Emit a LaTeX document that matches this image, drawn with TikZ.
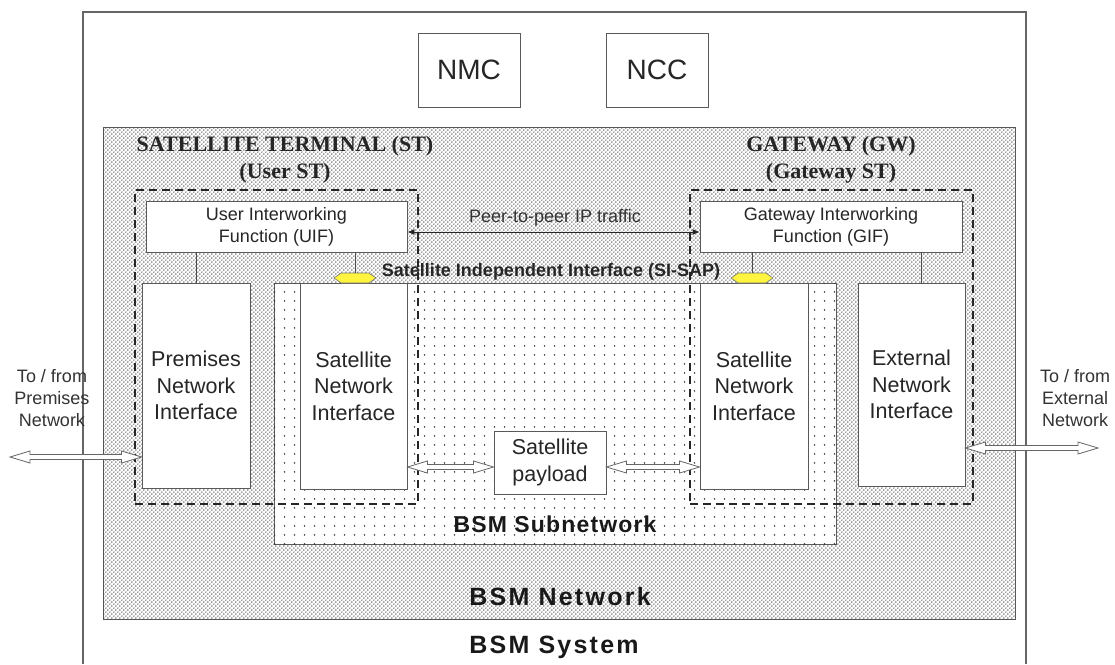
\documentclass[tikz,border=0pt]{standalone}
\usepackage{fontspec}
\setmainfont{Liberation Sans}
\newfontfamily\titlefont{Liberation Serif}
\newfontfamily\bsmA{Liberation Sans}[LetterSpace=9]
\newfontfamily\bsmB{Liberation Sans}[LetterSpace=5]
\usetikzlibrary{patterns.meta, shapes.symbols, arrows.meta, calc}

\tikzdeclarepattern{
  name=densedots, type=uncolored,
  bottom left={(0pt,0pt)}, top right={(4.4pt,4.4pt)},
  tile size={(4.4pt,4.4pt)},
  code={\tikzset{x=1pt,y=1pt}
    \fill (1.1,1.1) circle (0.85);
    \fill (3.3,3.3) circle (0.85);}
}
\tikzdeclarepattern{
  name=sparsedots, type=uncolored,
  bottom left={(0pt,0pt)}, top right={(10pt,9pt)},
  tile size={(10pt,9pt)},
  code={\tikzset{x=1pt,y=1pt}
    \fill (5,4.5) circle (0.95);}
}

\newcommand\hollowarrow[2]{%
  \draw[harrow] let \p1=#1, \p2=#2 in
    (\x1,\y1) -- (\x1+20pt,\y1+6pt) -- (\x1+20pt,\y1+2.5pt) -- (\x2-20pt,\y1+2.5pt)
    -- (\x2-20pt,\y1+6pt) -- (\x2,\y1) -- (\x2-20pt,\y1-6pt) -- (\x2-20pt,\y1-2.5pt)
    -- (\x1+20pt,\y1-2.5pt) -- (\x1+20pt,\y1-6pt) -- cycle;}

\begin{document}
\begin{tikzpicture}[x=1pt,y=-1pt,
  sysline/.style={draw=black!60, line width=1.3pt},
  box/.style={draw=black!65, line width=0.9pt, fill=white, inner sep=0pt, align=center, text=black!85},
  region/.style={draw=black!65, line width=0.9pt, fill=white, inner sep=0pt},
  dbox/.style={draw=black!85, line width=1.8pt, dash pattern=on 8pt off 5pt, inner sep=0pt},
  conn/.style={draw=black!70, line width=0.9pt},
  sap/.style={signal, signal to=east and west, signal pointer angle=70, draw=black!55, line width=0.6pt,
    fill=yellow!75!white, minimum width=42pt, minimum height=10pt, inner sep=0pt},
  peer/.style={draw=black!85, line width=0.9pt, {Latex[length=7pt,width=6pt]}-{Latex[length=7pt,width=6pt]}},
  harrow/.style={draw=black!60, line width=0.8pt, fill=white},
  titletxt/.style={font=\titlefont\bfseries\fontsize{22}{27}\selectfont, align=center, text=black!85},
  iffont/.style={font=\fontsize{21.5}{26.5}\selectfont},
  tofrom/.style={font=\fontsize{18}{22}\selectfont, align=center, text=black!80},
]
\useasboundingbox (0,0) rectangle (1115,664);
\fill[white] (0,0) rectangle (1115,664);

% BSM System outline (open at the bottom)
\draw[sysline] (83,664) -- (83,12) -- (1026,12) -- (1026,664);

\node[box, minimum width=102pt, minimum height=74pt, font=\fontsize{28}{32}\selectfont] (nmc) at (469,70) {NMC};
\node[box, minimum width=102pt, minimum height=74pt, font=\fontsize{28}{32}\selectfont] (ncc) at (657,70) {NCC};

% BSM Network and Subnetwork regions
\node[region, minimum width=912pt, minimum height=492pt,
  postaction={pattern=densedots, pattern color=black!75}] (net) at (559,373) {};
\node[region, minimum width=562pt, minimum height=261pt,
  postaction={pattern=sparsedots, pattern color=black!85}] (sub) at (555,413.5) {};

% titles
\node[titletxt] (sttitle) at (285,160) {SATELLITE TERMINAL (ST)\\(User ST)};
\node[titletxt] (gwtitle) at (831,160) {GATEWAY (GW)\\(Gateway ST)};

% boxes
\node[box, minimum width=261pt, minimum height=51pt, font=\fontsize{18}{22}\selectfont] (uif) at (276.5,226.5) {User Interworking\\Function (UIF)};
\node[box, minimum width=262pt, minimum height=51pt, font=\fontsize{18}{22}\selectfont] (gif) at (831,226.5) {Gateway Interworking\\Function (GIF)};
\node[box, iffont, minimum width=108pt, minimum height=205pt] (prem) at (196,385.5) {Premises\\Network\\Interface};
\node[box, iffont, minimum width=107pt, minimum height=206pt] (usni) at (353.5,386) {Satellite\\Network\\Interface};
\node[box, iffont, minimum width=108pt, minimum height=206pt] (gsni) at (754,386) {Satellite\\Network\\Interface};
\node[box, iffont, minimum width=107pt, minimum height=203pt] (ext) at (911.5,384.5) {External\\Network\\Interface};
\node[box, iffont, minimum width=112pt, minimum height=63pt] (pay) at (550,462.5) {Satellite\\payload};

% SAP points and links
\node[sap] (sapL) at (355,278) {};
\node[sap] (sapR) at (752,278) {};
\draw[conn] (prem.north) -- (prem.north |- uif.south);
\draw[conn] (sapL.north) -- (sapL.north |- uif.south);
\draw[conn] (sapR.north) -- (sapR.north |- gif.south);
\draw[conn] ([xshift=9.5pt]ext.north) -- ([xshift=9.5pt]ext.north |- gif.south);

% dashed ST boxes
\node[dbox, minimum width=283pt, minimum height=314pt] (ust) at (276.5,347) {};
\node[dbox, minimum width=283pt, minimum height=314pt] (gst) at (831.5,347) {};

% peer-to-peer traffic
\draw[peer] ([yshift=-5.5pt]uif.east) -- ([yshift=-5.5pt]uif.east -| gif.west);
\node[font=\fontsize{18}{22}\selectfont, text=black!80] (peerlbl) at (555,218) {Peer-to-peer IP traffic};
\node[font=\bfseries\fontsize{18}{22}\selectfont, text=black!85] (saplbl) at (551,272) {Satellite Independent Interface (SI-SAP)};

% hollow double arrows
\coordinate (premout) at (10,457);
\coordinate (extout) at (1098,448);
\coordinate (payy) at (0,467);
\hollowarrow{(premout)}{(prem.west |- premout)}
\hollowarrow{(ext.east |- extout)}{(extout)}
\hollowarrow{(usni.east |- payy)}{(pay.west |- payy)}
\hollowarrow{(pay.east |- payy)}{(gsni.west |- payy)}

\node[tofrom] (tfl) at (52,398) {To / from\\Premises\\Network};
\node[tofrom] (tfr) at (1075,398) {To / from\\External\\Network};

% BSM labels
\node[font=\bsmB\bfseries\fontsize{23}{28}\selectfont, text=black!90] (lsub) at (555,524) {BSM Subnetwork};
\node[font=\bsmA\bfseries\fontsize{25}{30}\selectfont, text=black!90] (lnet) at (560,597) {BSM Network};
\node[font=\bsmA\bfseries\fontsize{25}{30}\selectfont, text=black!90] (lsys) at (554,647) {BSM System};
\end{tikzpicture}
\end{document}
